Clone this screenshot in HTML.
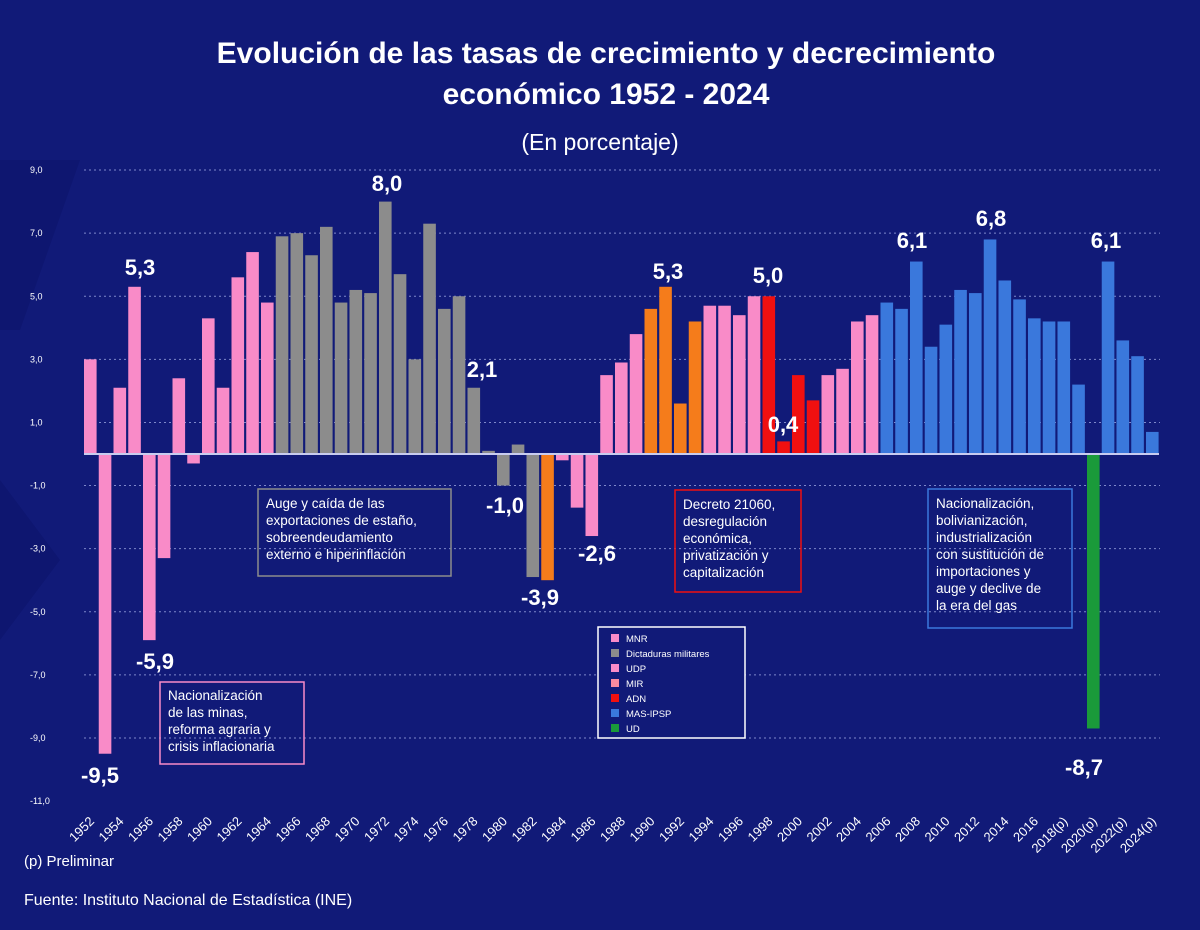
<!DOCTYPE html>
<html><head><meta charset="utf-8"><style>
html,body{margin:0;padding:0;background:#111a78;}
svg{display:block}
</style></head><body>
<svg width="1200" height="930" viewBox="0 0 1200 930" xmlns="http://www.w3.org/2000/svg" font-family="Liberation Sans, sans-serif">
<rect width="1200" height="930" fill="#111a78"/>
<polygon points="0,160 80,160 20,330 0,330" fill="#0e1670"/>
<polygon points="0,480 60,560 0,640" fill="#0e1670"/>
<text x="606" y="63" fill="#fff" font-size="30" font-weight="bold" text-anchor="middle">Evolución de las tasas de crecimiento y decrecimiento</text>
<text x="606" y="104" fill="#fff" font-size="30" font-weight="bold" text-anchor="middle">económico 1952 - 2024</text>
<text x="600" y="150" fill="#fff" font-size="23" text-anchor="middle">(En porcentaje)</text>
<g id="grid" stroke="#9aa4e0" stroke-width="1" stroke-dasharray="2,3" opacity="0.8"></g>
<g id="ticks" fill="#fff" font-size="9"></g>
<g id="bars"></g>
<line x1="84" y1="454" x2="1159" y2="454" stroke="#c8ccf0" stroke-width="2"/>
<g id="years" fill="#fff" font-size="13"></g>
<g fill="#fff" font-size="22" font-weight="bold" text-anchor="middle">
<text x="140" y="275">5,3</text>
<text x="100" y="783">-9,5</text>
<text x="155" y="669">-5,9</text>
<text x="387" y="191">8,0</text>
<text x="482" y="377">2,1</text>
<text x="505" y="513">-1,0</text>
<text x="540" y="605">-3,9</text>
<text x="597" y="561">-2,6</text>
<text x="668" y="279">5,3</text>
<text x="768" y="283">5,0</text>
<text x="783" y="432">0,4</text>
<text x="912" y="248">6,1</text>
<text x="991" y="226">6,8</text>
<text x="1106" y="248">6,1</text>
<text x="1084" y="775">-8,7</text>
</g>
<g fill="#fff" font-size="13.5">
<rect x="160" y="682" width="144" height="82" fill="none" stroke="#f98bc8" stroke-width="1.5"/>
<text x="168" y="700">Nacionalización</text><text x="168" y="717">de las minas,</text><text x="168" y="734">reforma agraria y</text><text x="168" y="751">crisis inflacionaria</text>
<rect x="258" y="489" width="193" height="87" fill="none" stroke="#8c8c8c" stroke-width="1.5"/>
<text x="266" y="508">Auge y caída de las</text><text x="266" y="525">exportaciones de estaño,</text><text x="266" y="542">sobreendeudamiento</text><text x="266" y="559">externo e hiperinflación</text>
<rect x="675" y="490" width="126" height="102" fill="none" stroke="#f01010" stroke-width="1.5"/>
<text x="683" y="509">Decreto 21060,</text><text x="683" y="526">desregulación</text><text x="683" y="543">económica,</text><text x="683" y="560">privatización y</text><text x="683" y="577">capitalización</text>
<rect x="928" y="489" width="144" height="139" fill="none" stroke="#3a78dc" stroke-width="1.5"/>
<text x="936" y="508">Nacionalización,</text><text x="936" y="525">bolivianización,</text><text x="936" y="542">industrialización</text><text x="936" y="559">con sustitución de</text><text x="936" y="576">importaciones y</text><text x="936" y="593">auge y declive de</text><text x="936" y="610">la era del gas</text>
</g>
<g font-size="9.5" fill="#fff">
<rect x="598" y="627" width="147" height="111" fill="#111a78" stroke="#fff" stroke-width="1.5"/>
<rect x="611" y="634" width="8" height="8" fill="#f98bc8"/><text x="626" y="642">MNR</text>
<rect x="611" y="649" width="8" height="8" fill="#8c8c8c"/><text x="626" y="657">Dictaduras militares</text>
<rect x="611" y="664" width="8" height="8" fill="#f98bc8"/><text x="626" y="672">UDP</text>
<rect x="611" y="679" width="8" height="8" fill="#f98ba0"/><text x="626" y="687">MIR</text>
<rect x="611" y="694" width="8" height="8" fill="#f01010"/><text x="626" y="702">ADN</text>
<rect x="611" y="709" width="8" height="8" fill="#3a78dc"/><text x="626" y="717">MAS-IPSP</text>
<rect x="611" y="724" width="8" height="8" fill="#1a9a3a"/><text x="626" y="732">UD</text>
</g>
<text x="24" y="866" fill="#fff" font-size="15">(p) Preliminar</text>
<text x="24" y="905" fill="#fff" font-size="16">Fuente: Instituto Nacional de Estadística (INE)</text>
<script>
const NS="http://www.w3.org/2000/svg";
function el(t,a,p){const e=document.createElementNS(NS,t);for(const k in a)e.setAttribute(k,a[k]);p.appendChild(e);return e;}
const Y0=454,U=31.55;
const grid=document.getElementById('grid'),ticks=document.getElementById('ticks');
for(let v=9;v>=-11;v-=2){const y=Y0-v*U;if(v!==-11)el('line',{x1:84,x2:1160,y1:y,y2:y},grid);const t=el('text',{x:30,y:y+3},ticks);t.textContent=v.toFixed(1).replace('.',',');}
const vals=[3.0,-9.5,2.1,5.3,-5.9,-3.3,2.4,-0.3,4.3,2.1,5.6,6.4,4.8,6.9,7.0,6.3,7.2,4.8,5.2,5.1,8.0,5.7,3.0,7.3,4.6,5.0,2.1,0.1,-1.0,0.3,-3.9,-4.0,-0.2,-1.7,-2.6,2.5,2.9,3.8,4.6,5.3,1.6,4.2,4.7,4.7,4.4,5.0,5.0,0.4,2.5,1.7,2.5,2.7,4.2,4.4,4.8,4.6,6.1,3.4,4.1,5.2,5.1,6.8,5.5,4.9,4.3,4.2,4.2,2.2,-8.7,6.1,3.6,3.1,0.7];
const P='#f98bc8',G='#8c8c8c',O='#f57c1b',R='#f01010',B='#3a78dc',GR='#1a9a3a';
function col(y){if(y<=1964)return P;if(y<=1982)return G;if(y==1983)return O;if(y<=1989)return P;if(y<=1993)return O;if(y<=1997)return P;if(y<=2001)return R;if(y<=2005)return P;if(y==2020)return GR;return B;}
const bars=document.getElementById('bars'),yrs=document.getElementById('years');
vals.forEach((v,i)=>{const yr=1952+i;const x=84+i*14.75;const h=Math.abs(v)*U;
el('rect',{x:x,y:v>=0?Y0-h:Y0,width:12.6,height:h,fill:col(yr)},bars);
if(i%2==0){const cx=x+11;const lab=yr>=2018?yr+'(p)':''+yr;const t=el('text',{x:cx,y:822,'text-anchor':'end',transform:`rotate(-45 ${cx} 822)`},yrs);t.textContent=lab;}
});
</script>
</svg>
</body></html>
